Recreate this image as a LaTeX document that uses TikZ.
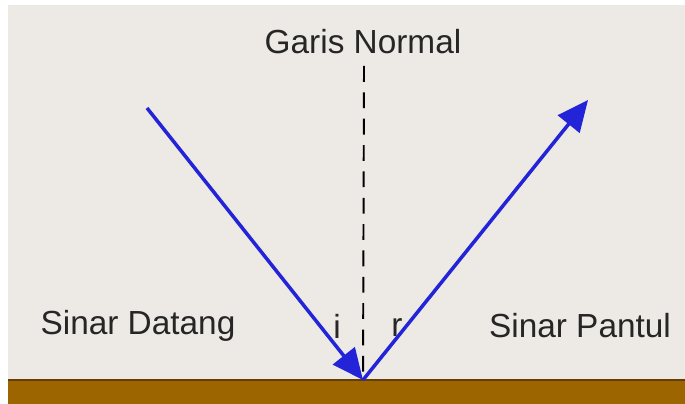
\documentclass[tikz,border=0pt]{standalone}
\usepackage{fontspec}
\setmainfont{Liberation Sans}
\usetikzlibrary{arrows.meta}
\definecolor{board}{RGB}{237,234,229}
\definecolor{ground}{RGB}{156,101,0}
\definecolor{groundtop}{RGB}{100,62,10}
\definecolor{ray}{RGB}{35,35,215}

\begin{document}
\begin{tikzpicture}
			[x=0.02cm, y=-0.02cm,
			lbl/.style={inner sep=0pt, text=black!85, font=\fontsize{19}{22}\selectfont},
			beam/.style={ray, line width=2pt, -{Triangle[length=0.62cm, width=0.55cm]}}]
			
			\useasboundingbox (0,0) rectangle (685,404);
			\fill[board] (8,5) rectangle (685,380);
			\fill[ground] (8,380) rectangle (685,404);
			\draw[groundtop, line width=1.4pt] (8,380) -- (685,380);
			
			\coordinate (S) at (147,108);
			\coordinate (O) at (363,380);
			\coordinate (P) at (588,100);
			\coordinate (N) at (364,66);
			
			\node[lbl] (GN) at (363,42) {Garis Normal};
			\node[lbl] (SD) at (138,326) {Sinar Datang};
			\node[lbl] (SP) at (580,326) {Sinar Pantul};
			\node[lbl] (I) at (337,326) {i};
			\node[lbl] (R) at (397,328) {r};
			
			\draw[black, line width=1.1pt, dash pattern=on 9pt off 6pt] (N) -- (O);
			\draw[beam] (S) -- (O);
			\draw[beam] (O) -- (P);
		\end{tikzpicture}
\end{document}
